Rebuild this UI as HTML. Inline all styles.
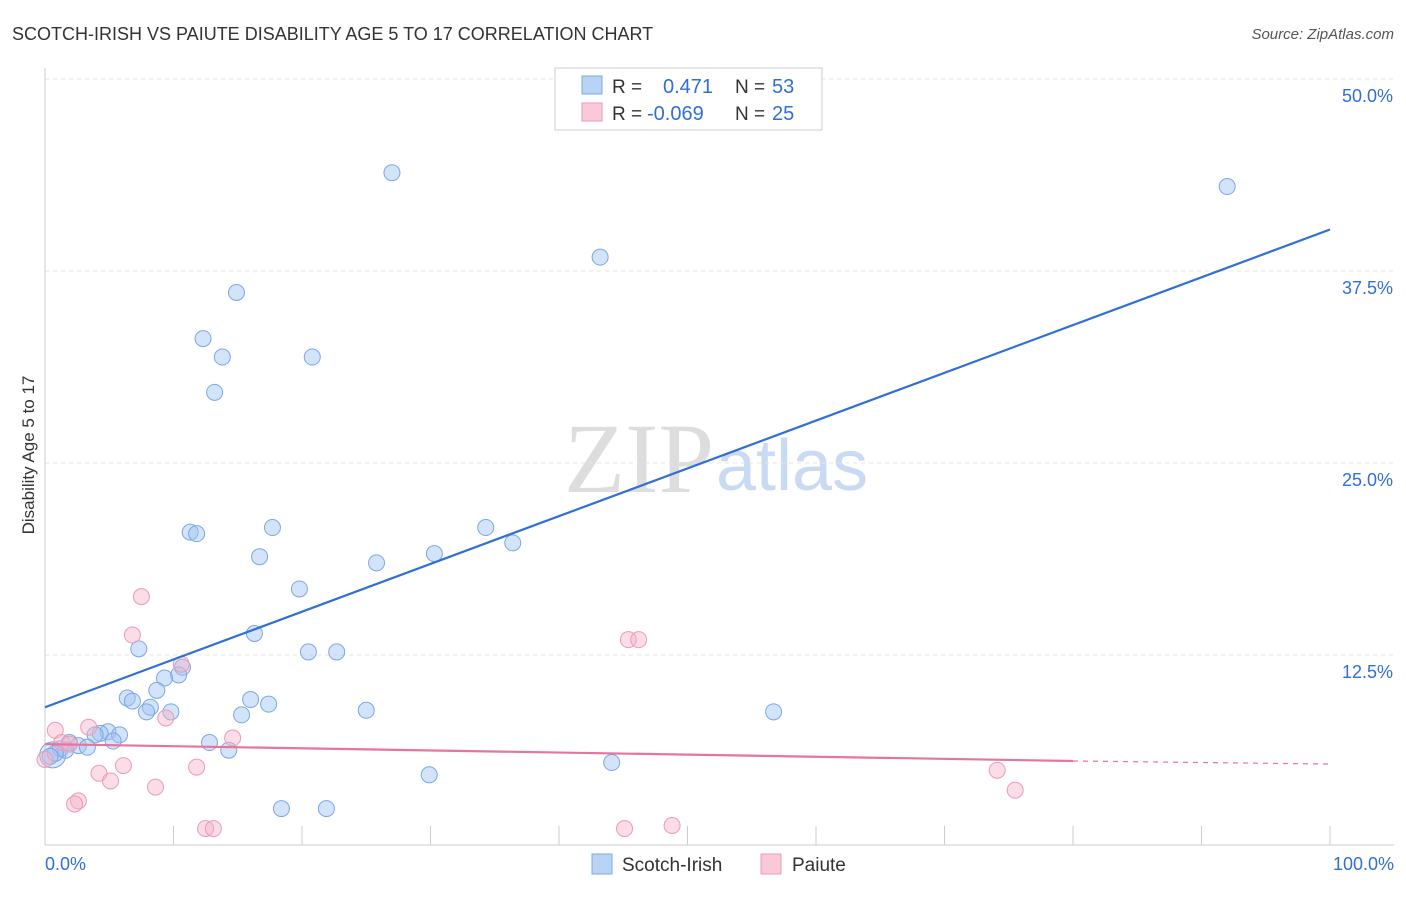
<!DOCTYPE html>
<html><head><meta charset="utf-8"><style>
body{margin:0;background:#fff;font-family:"Liberation Sans",sans-serif;}
svg text{font-family:"Liberation Sans",sans-serif;}
</style></head><body>
<svg id="chart" width="1406" height="892">
<text x="12" y="40" font-size="18" fill="#333">SCOTCH-IRISH VS PAIUTE DISABILITY AGE 5 TO 17 CORRELATION CHART</text>
<text x="1394" y="39" font-size="15" fill="#555" font-style="italic" text-anchor="end">Source: ZipAtlas.com</text>
<text x="714" y="492" font-size="100" fill="#ddd" text-anchor="end" style="font-family:'Liberation Serif',serif">ZIP</text>
<text x="716" y="490" font-size="72" fill="#c9daf3">atlas</text>
<text x="34" y="455" font-size="17" fill="#333" text-anchor="middle" transform="rotate(-90 34 455)">Disability Age 5 to 17</text>
<g id="grid"></g><g id="pts"></g><g id="lines"></g>
<g>
<rect x="555" y="68" width="267" height="62" fill="#fff" stroke="#ccc"/>
<rect x="582" y="76" width="20" height="18" fill="#b9d3f5" stroke="#7aa7e6"/>
<rect x="582" y="103" width="20" height="18" fill="#f9c9d8" stroke="#ee9ab5"/>
<text x="612" y="93" font-size="19" fill="#333">R = </text><text x="663" y="93" font-size="20" fill="#2f6fd6">0.471</text>
<text x="735" y="93" font-size="19" fill="#333">N = </text><text x="772" y="93" font-size="20" fill="#2f6fd6">53</text>
<text x="612" y="120" font-size="19" fill="#333">R = </text><text x="647" y="120" font-size="20" fill="#2f6fd6">-0.069</text>
<text x="735" y="120" font-size="19" fill="#333">N = </text><text x="772" y="120" font-size="20" fill="#2f6fd6">25</text>
</g>
<g>
<rect x="592" y="854" width="20" height="20" fill="#b9d3f5" stroke="#7aa7e6"/>
<text x="622" y="871" font-size="19" fill="#333">Scotch-Irish</text>
<rect x="761" y="854" width="20" height="20" fill="#f9c9d8" stroke="#ee9ab5"/>
<text x="792" y="871" font-size="19" fill="#333">Paiute</text>
</g>
<text x="45" y="870" font-size="18" fill="#2f6fd6">0.0%</text>
<text x="1394" y="870" font-size="18" fill="#2f6fd6" text-anchor="end">100.0%</text>
</svg>
<script>
const yTicks=[12.5,25,37.5,50];
const yTickLabels=["12.5%","25.0%","37.5%","50.0%"];
const blueX=[27,92,43.2,14.9,12.3,13.8,20.8,13.2,11.3,11.8,17.7,16.7,34.3,36.4,30.3,25.8,19.8,16.3,7.3,20.5,22.7,10.7,10.4,9.3,8.7,6.4,6.8,16,8.2,17.4,7.9,9.8,15.3,25,56.7,4.9,5.8,4.3,3.9,5.3,12.8,14.3,1.9,2.6,3.3,1.2,1.6,0.8,0.4,29.9,44.1,18.4,21.9];
const blueY=[43.9,43,38.4,36.1,33.1,31.9,31.9,29.6,20.5,20.4,20.8,18.9,20.8,19.8,19.1,18.5,16.8,13.9,12.9,12.7,12.7,11.7,11.2,11,10.2,9.7,9.5,9.6,9.1,9.3,8.8,8.8,8.6,8.9,8.8,7.5,7.3,7.4,7.3,6.9,6.8,6.3,6.8,6.6,6.5,6.4,6.3,6.1,5.9,4.7,5.5,2.5,2.5];
const pinkX=[7.5,6.8,10.6,9.4,0.8,3.4,14.6,1.3,1.9,0,6.1,4.2,5.1,11.8,8.6,2.6,2.3,45.4,46.2,74.1,75.5,12.5,13.1,45.1,48.8];
const pinkY=[16.3,13.8,11.9,8.4,7.6,7.8,7.1,6.8,6.7,5.7,5.3,4.8,4.3,5.2,3.9,3,2.8,13.5,13.5,5.0,3.7,1.2,1.2,1.2,1.4];
const blueTrend=[9.1,40.2];
const pinkTrend=[6.7,5.6,5.4];
const X0=45,X1=1330,Y0=847,YS=15.36;
const sx=v=>X0+(X1-X0)*v/100, sy=v=>Y0-v*YS;
const NS="http://www.w3.org/2000/svg";
function mk(p,t,a){const e=document.createElementNS(NS,t);for(const k in a)e.setAttribute(k,a[k]);p.appendChild(e);return e;}
const grid=document.getElementById('grid');
yTicks.forEach((t,i)=>{
 const l=mk(grid,'line',{x1:45,x2:1394,y1:sy(t),y2:sy(t),stroke:'#e4e4e4','stroke-dasharray':'4,4'});
 
 
 const tx=mk(grid,'text',{x:1393,y:sy(t)+23,'font-size':18,fill:'#2f6fd6','text-anchor':'end'});
 tx.textContent=yTickLabels[i];
 
 
});
const ax=mk(grid,'line',{x1:45,x2:1394,y1:845,y2:845,stroke:'#ccc'});


const ay=mk(grid,'line',{x1:45,x2:45,y1:68,y2:845,stroke:'#ccc'});


for(let i=0;i<=10;i++){const t=mk(grid,'line',{x1:sx(i*10),x2:sx(i*10),y1:826,y2:845,stroke:'#ccc'});
 
 }
const pts=document.getElementById('pts');
const big=mk(pts,'circle',{cx:sx(0.6),cy:sy(6),r:13,fill:'rgba(160,195,240,0.35)',stroke:'#7aa7e6','stroke-width':1});


blueX.forEach((x,i)=>{const c=mk(pts,'circle',{cx:sx(x),cy:sy(blueY[i]),r:8,fill:'rgba(160,195,240,0.45)',stroke:'#7aa7e6','stroke-width':1});
 
 });
pinkX.forEach((x,i)=>{const c=mk(pts,'circle',{cx:sx(x),cy:sy(pinkY[i]),r:8,fill:'rgba(245,180,200,0.45)',stroke:'#ee9ab5','stroke-width':1});
 
 });
const lines=document.getElementById('lines');
const bl=mk(lines,'line',{x1:sx(0),y1:sy(blueTrend[0]),x2:sx(100),y2:sy(blueTrend[1]),stroke:'#2f6fd6','stroke-width':2.2});


const pl=mk(lines,'line',{x1:sx(0),y1:sy(pinkTrend[0]),x2:sx(80),y2:sy(pinkTrend[1]),stroke:'#e8739b','stroke-width':2.2});


const pd=mk(lines,'line',{x1:sx(80),y1:sy(pinkTrend[1]),x2:sx(100),y2:sy(pinkTrend[2]),stroke:'#e8739b','stroke-width':1.2,'stroke-dasharray':'5,5'});


</script>
</body></html>
